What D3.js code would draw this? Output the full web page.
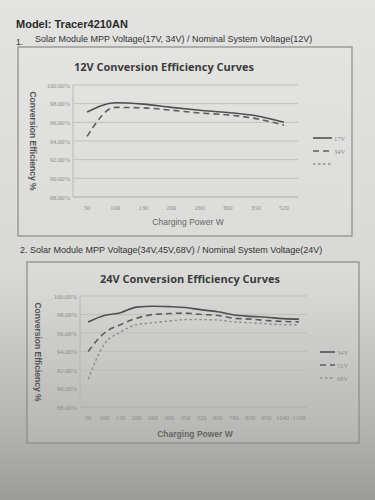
<!DOCTYPE html>
<html>
<head>
<meta charset="utf-8">
<script src="https://cdn.jsdelivr.net/npm/d3@7"></script>
<style>
html, body { margin: 0; padding: 0; }
body { width: 375px; height: 500px; overflow: hidden;
  background: linear-gradient(#e3e3e1, #d8d8d6 55%, #b4b4b2 85%, #9c9c9a); }
</style>
</head>
<body>
<svg id="pagina" width="375" height="500"></svg>
<script>
var cats12 = ['50', '100', '130', '200', '260', '300', '350', '520'];
var v17 = [97.1, 98.1, 97.95, 97.6, 97.3, 97.05, 96.7, 96.0];
var v34 = [94.5, 97.6, 97.55, 97.3, 97.0, 96.8, 96.4, 95.7];
var leyenda12 = ['17V', '34V', ''];

var cats24 = ['50', '100', '130', '200', '260', '300', '350', '520', '600', '780', '850', '950', '1040', '1100'];
var v34b = [97.2, 97.9, 98.2, 98.8, 98.9, 98.85, 98.75, 98.5, 98.3, 97.95, 97.8, 97.7, 97.55, 97.5];
var v51 = [94.0, 96.0, 96.9, 97.6, 98.0, 98.1, 98.15, 98.0, 97.9, 97.6, 97.5, 97.35, 97.25, 97.2];
var v68 = [91.0, 94.8, 96.1, 96.9, 97.1, 97.3, 97.45, 97.45, 97.4, 97.2, 97.1, 97.0, 96.9, 96.9];
var leyenda24 = ['34V', '51V', '68V'];

var yTicks = [88, 90, 92, 94, 96, 98, 100];

var estilos = [
  { color: "#505050", dash: null, ancho: 1.6 },
  { color: "#5e5e5e", dash: "6,4", ancho: 1.6 },
  { color: "#8e8e8e", dash: "2.5,2.5", ancho: 1.4 }
];

var svg = d3.select("#pagina");

svg.append("text")
  .attr("x", 16).attr("y", 28)
  .attr("font-family", "Liberation Sans, Arial, sans-serif")
  .attr("font-size", "11px").attr("font-weight", "bold")
  .attr("fill", "#2a2a2a")
  .text("Model: Tracer4210AN");

svg.append("text")
  .attr("x", 16).attr("y", 45)
  .attr("font-family", "Liberation Sans, Arial, sans-serif")
  .attr("font-size", "8.5px").attr("fill", "#333")
  .text("1.");

svg.append("text")
  .attr("x", 35).attr("y", 42)
  .attr("font-family", "Liberation Sans, Arial, sans-serif")
  .attr("font-size", "9px").attr("fill", "#333")
  .text("Solar Module MPP Voltage(17V, 34V) / Nominal System Voltage(12V)");

svg.append("text")
  .attr("x", 20).attr("y", 253)
  .attr("font-family", "Liberation Sans, Arial, sans-serif")
  .attr("font-size", "9px").attr("fill", "#333")
  .text("2. Solar Module MPP Voltage(34V,45V,68V) / Nominal System Voltage(24V)");

function grafica(o) {
  var g = svg.append("g");

  g.append("rect")
    .attr("x", o.caja[0]).attr("y", o.caja[1])
    .attr("width", o.caja[2] - o.caja[0]).attr("height", o.caja[3] - o.caja[1])
    .attr("fill", "rgba(255,255,255,0.07)")
    .attr("stroke", "#8a8a88").attr("stroke-width", 1.2);

  var x = d3.scaleBand().domain(o.cats).range([o.izq, o.der]);
  var y = d3.scaleLinear().domain([88, 100]).range([o.abajo, o.arriba]);

  // lineas de la cuadricula
  g.selectAll(".grid").data(yTicks).enter().append("line")
    .attr("x1", o.izq).attr("x2", o.der)
    .attr("y1", function (d) { return y(d); })
    .attr("y2", function (d) { return y(d); })
    .attr("stroke", function (d) { return d == 88 ? "#a8a8a6" : "#bcbcba"; })
    .attr("stroke-width", 0.9);

  g.append("line")
    .attr("x1", o.izq).attr("x2", o.izq)
    .attr("y1", y(100)).attr("y2", y(88))
    .attr("stroke", "#b4b4b2").attr("stroke-width", 0.9);

  var ejeY = d3.axisLeft(y).tickValues(yTicks).tickSize(0).tickPadding(3)
    .tickFormat(function (d) { return d.toFixed(2) + "%"; });
  var gy = g.append("g").attr("transform", "translate(" + o.izq + ",0)").call(ejeY);
  gy.select(".domain").remove();
  gy.selectAll("text")
    .attr("font-family", "Liberation Serif, serif")
    .attr("font-size", "6.5px").attr("fill", "#8c8c8a");

  var ejeX = d3.axisBottom(x).tickSize(0).tickPadding(8);
  var gx = g.append("g").attr("transform", "translate(0," + o.abajo + ")").call(ejeX);
  gx.select(".domain").remove();
  gx.selectAll("text")
    .attr("font-family", "Liberation Serif, serif")
    .attr("font-size", "6.5px").attr("fill", "#8c8c8a");

  var linea = d3.line()
    .x(function (d, i) { return x(o.cats[i]) + x.bandwidth() / 2; })
    .y(function (d) { return y(d); })
    .curve(d3.curveMonotoneX);

  for (var s = 0; s < o.series.length; s++) {
    g.append("path")
      .attr("d", linea(o.series[s]))
      .attr("fill", "none")
      .attr("stroke", estilos[s].color)
      .attr("stroke-width", estilos[s].ancho)
      .attr("stroke-dasharray", estilos[s].dash);
  }

  // leyenda
  for (var k = 0; k < o.leyenda.length; k++) {
    var ly = o.leyY + k * o.leyPaso;
    g.append("line")
      .attr("x1", o.leyX).attr("x2", o.leyX + o.leyLargo)
      .attr("y1", ly).attr("y2", ly)
      .attr("stroke", estilos[k].color)
      .attr("stroke-width", estilos[k].ancho)
      .attr("stroke-dasharray", estilos[k].dash);
    g.append("text")
      .attr("x", o.leyX + o.leyLargo + 2).attr("y", ly + 2.5)
      .attr("font-family", "Liberation Serif, serif")
      .attr("font-size", "6.5px").attr("fill", "#8c8c8a")
      .text(o.leyenda[k]);
  }

  g.append("text")
    .attr("x", o.titulo[0]).attr("y", o.titulo[1])
    .attr("text-anchor", "middle")
    .attr("font-family", "Open Sans, sans-serif")
    .attr("font-size", "11px").attr("font-weight", "bold")
    .attr("fill", "#3c3c3c")
    .text(o.textoTitulo);

  g.append("text")
    .attr("x", o.ejeXt[0]).attr("y", o.ejeXt[1])
    .attr("text-anchor", "middle")
    .attr("font-family", "Liberation Sans, Arial, sans-serif")
    .attr("font-size", "8.5px").attr("font-weight", o.negrita ? "bold" : "normal")
    .attr("fill", "#666")
    .text("Charging Power W");

  g.append("text")
    .attr("transform", "translate(" + o.ejeYt[0] + "," + o.ejeYt[1] + ") rotate(90)")
    .attr("text-anchor", "middle")
    .attr("font-family", "Liberation Sans, Arial, sans-serif")
    .attr("font-size", "8.5px").attr("font-weight", "bold")
    .attr("fill", "#555")
    .text("Conversion Efficiency %");
}

grafica({
  cats: cats12, series: [v17, v34], leyenda: leyenda12,
  textoTitulo: "12V Conversion Efficiency Curves",
  caja: [18, 47, 352, 236],
  izq: 73, der: 298, arriba: 85, abajo: 197,
  leyX: 313, leyY: 138, leyPaso: 13, leyLargo: 19,
  titulo: [164, 71], ejeXt: [188, 225], ejeYt: [30, 141], negrita: false
});

grafica({
  cats: cats24, series: [v34b, v51, v68], leyenda: leyenda24,
  textoTitulo: "24V Conversion Efficiency Curves",
  caja: [27, 262, 359, 443],
  izq: 80, der: 307, arriba: 296, abajo: 407,
  leyX: 320, leyY: 352, leyPaso: 13, leyLargo: 15,
  titulo: [190, 283], ejeXt: [195, 437], ejeYt: [35, 352], negrita: true
});
</script>
</body>
</html>
